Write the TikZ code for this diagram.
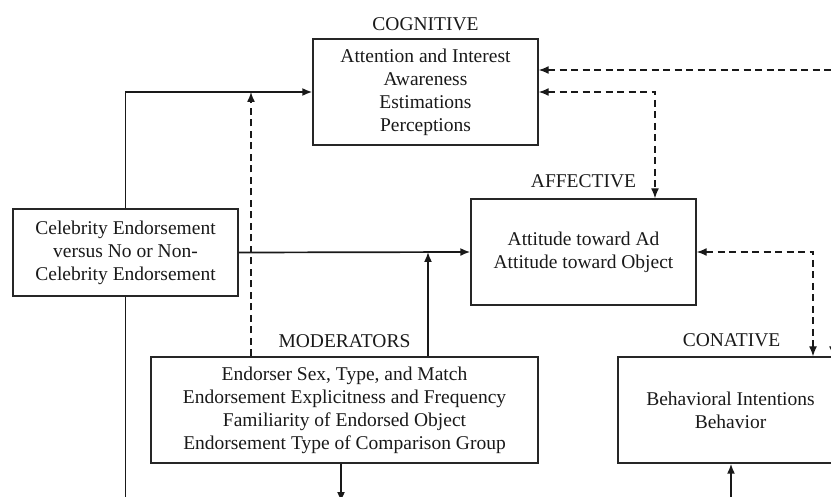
\documentclass[tikz,border=0pt]{standalone}
\usepackage{fontspec}
\setmainfont{Liberation Serif}
\usetikzlibrary{arrows.meta}
\begin{document}
\begin{tikzpicture}[x=1pt,y=1pt,
  box/.style={draw=black!85,line width=1.4pt,inner sep=0pt,align=center,
    font=\fontsize{19.5}{23}\selectfont,text=black!90},
  lbl/.style={inner sep=0pt,font=\fontsize{19.5}{23}\selectfont,text=black!90},
  conn/.style={line width=1.7pt,draw=black!90,-{Latex[length=10pt,width=8pt]}},
  plain/.style={line width=1.7pt,draw=black!90},
  dconn/.style={line width=1.4pt,draw=black!90,dash pattern=on 7pt off 4.5pt},
  tip/.style={-{Latex[length=10pt,width=8pt]}},
  tips/.style={{Latex[length=10pt,width=8pt]}-{Latex[length=10pt,width=8pt]}}]
\useasboundingbox (0,0) rectangle (831,-497);
\clip (0,0) rectangle (831,-497);

\node[box,minimum width=225,minimum height=106] (cog) at (425.5,-92)
  {Attention and Interest\\Awareness\\Estimations\\Perceptions};
\node[lbl] (cogl) at (425.5,-24) {COGNITIVE};

\node[box,minimum width=225,minimum height=87] (cel) at (125.5,-252.5)
  {Celebrity Endorsement\\versus No or Non-\\Celebrity Endorsement};

\node[box,minimum width=225,minimum height=106] (aff) at (583.5,-252)
  {Attitude toward Ad\\Attitude toward Object};
\node[lbl] (affl) at (583.5,-181) {AFFECTIVE};

\node[box,minimum width=387,minimum height=106] (mod) at (344.5,-410)
  {Endorser Sex, Type, and Match\\Endorsement Explicitness and Frequency\\Familiarity of Endorsed Object\\Endorsement Type of Comparison Group};
\node[lbl] (modl) at (344.5,-341) {MODERATORS};

\node[box,minimum width=225,minimum height=106] (con) at (730.5,-410)
  {Behavioral Intentions\\Behavior};
\node[lbl] (conl) at (731.5,-340) {CONATIVE};

% coordinates
\coordinate (j1) at (251,-92);
\coordinate (j2) at (428,-252);
\coordinate (c2) at (655,-92);
\coordinate (a2) at (813,-252);
\coordinate (r) at (833,-70);
\coordinate (mb) at (341,-502);
\coordinate (cb) at (731,-520);
\coordinate (lb) at (125.5,-520);

% solid connectors
\draw[conn] (cel.north) |- (cog.west);
\draw[conn] (cel.east) -- (aff.west);
\draw[conn] (mod.north -| j2) -- (j2);
\draw[conn] (mod.south -| mb) -- (mb);
\draw[conn] (cb) -- (con.south -| cb);
\draw[plain] (cel.south) -- (cel.south |- lb);

% dashed connectors
\draw[dconn,tip] (mod.north -| j1) -- (j1);
\draw[dconn,tips] (cog.east |- c2) -- (c2) -- (c2 |- aff.north);
\draw[dconn,tips] (aff.east |- a2) -- (a2) -- (a2 |- con.north);
\draw[dconn,tips] (cog.east |- r) -- (r) -- (r |- con.north);
\end{tikzpicture}
\end{document}
